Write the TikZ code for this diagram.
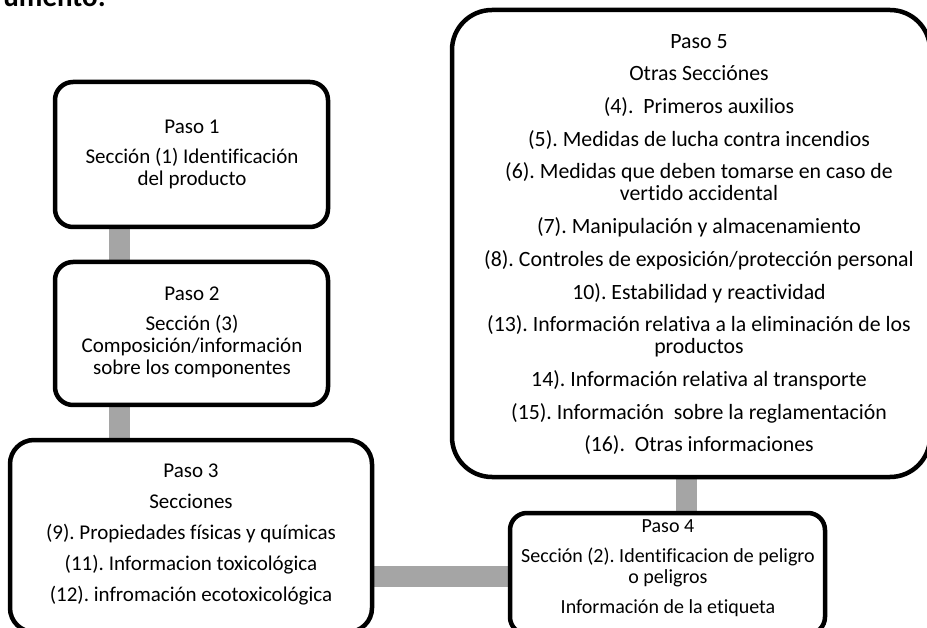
\documentclass[tikz,border=0pt]{standalone}
\usepackage{fontspec}
\setmainfont{Carlito}[Ligatures={NoCommon}]
\frenchspacing
\usetikzlibrary{backgrounds}
\definecolor{linkgray}{HTML}{A5A5A5}
\tikzset{
  stepbox/.style={draw=black, line width=4.5pt, fill=white, rounded corners=#1, inner sep=0pt},
  steptext/.style={align=center, inner sep=0pt, anchor=north, font=\fontsize{21}{22}\selectfont},
  conn/.style={draw=linkgray, line width=21pt},
}
\begin{document}
\begin{tikzpicture}[x=1pt, y=-1pt]
\useasboundingbox (0,0) rectangle (927,628);
\clip (0,0) rectangle (927,628);

% heading, cut by the top edge
\node[anchor=base east, inner sep=0pt, font=\fontsize{29}{30}\selectfont\bfseries] (doc) at (106,7) {umento:};

% step boxes
\node[stepbox=18pt, minimum width=273pt, minimum height=145pt] (b1) at (191.5,154.5) {};
\node[stepbox=18pt, minimum width=273pt, minimum height=143pt] (b2) at (191.5,333.5) {};
\node[stepbox=24pt, minimum width=362pt, minimum height=192pt] (b3) at (191,536) {};
\node[stepbox=17pt, minimum width=315pt, minimum height=121pt] (b4) at (667.5,573.5) {};
\node[stepbox=40pt, minimum width=478pt, minimum height=467pt] (b5) at (691,243.5) {};

% box texts
\node[steptext] (t1) at (192,119.5) {Paso 1\\[8.5pt]Sección (1) Identificación\\del producto};
\node[steptext] (t2) at (192,286.5) {Paso 2\\[8.5pt]Sección (3)\\Composición/información\\sobre los componentes};
\node[steptext] (t3) at (191,463.5) {Paso 3\\[9pt]Secciones\\[9pt](9). Propiedades físicas y químicas\\[9pt](11). Informacion toxicológica\\[9pt](12). infromación ecotoxicológica};
\node[steptext, font=\fontsize{20}{21}\selectfont] (t4) at (668,519.7) {Paso 4\\[9pt]Sección (2). Identificacion de peligro\\o peligros\\[9pt]Información de la etiqueta};
\node[steptext, font=\fontsize{21.8}{22}\selectfont] (t5) at (699,34) {Paso 5\\[10.7pt]Otras Secciónes\\[10.7pt](4).\ \ Primeros auxilios\\[10.7pt](5). Medidas de lucha contra incendios\\[10.7pt](6). Medidas que deben tomarse en caso de\\vertido accidental\\[10.7pt](7). Manipulación y almacenamiento\\[10.7pt](8). Controles de exposición/protección personal\\[10.7pt]10). Estabilidad y reactividad\\[10.7pt](13). Información relativa a la eliminación de los\\productos\\[10.7pt]14). Información relativa al transporte\\[10.7pt](15). Información\ \ sobre la reglamentación\\[10.7pt](16).\ \ Otras informaciones};

% connectors behind the boxes
\coordinate (laneA) at (119,0);
\coordinate (laneB) at (0,576);
\coordinate (laneC) at (686,0);
\begin{scope}[on background layer]
\draw[conn] (b1.south -| laneA) -- (b2.north -| laneA);
\draw[conn] (b2.south -| laneA) -- (b3.north -| laneA);
\draw[conn] (b3.east |- laneB) -- (b4.west |- laneB);
\draw[conn] (b4.north -| laneC) -- (b5.south -| laneC);
\end{scope}
\end{tikzpicture}
\end{document}
